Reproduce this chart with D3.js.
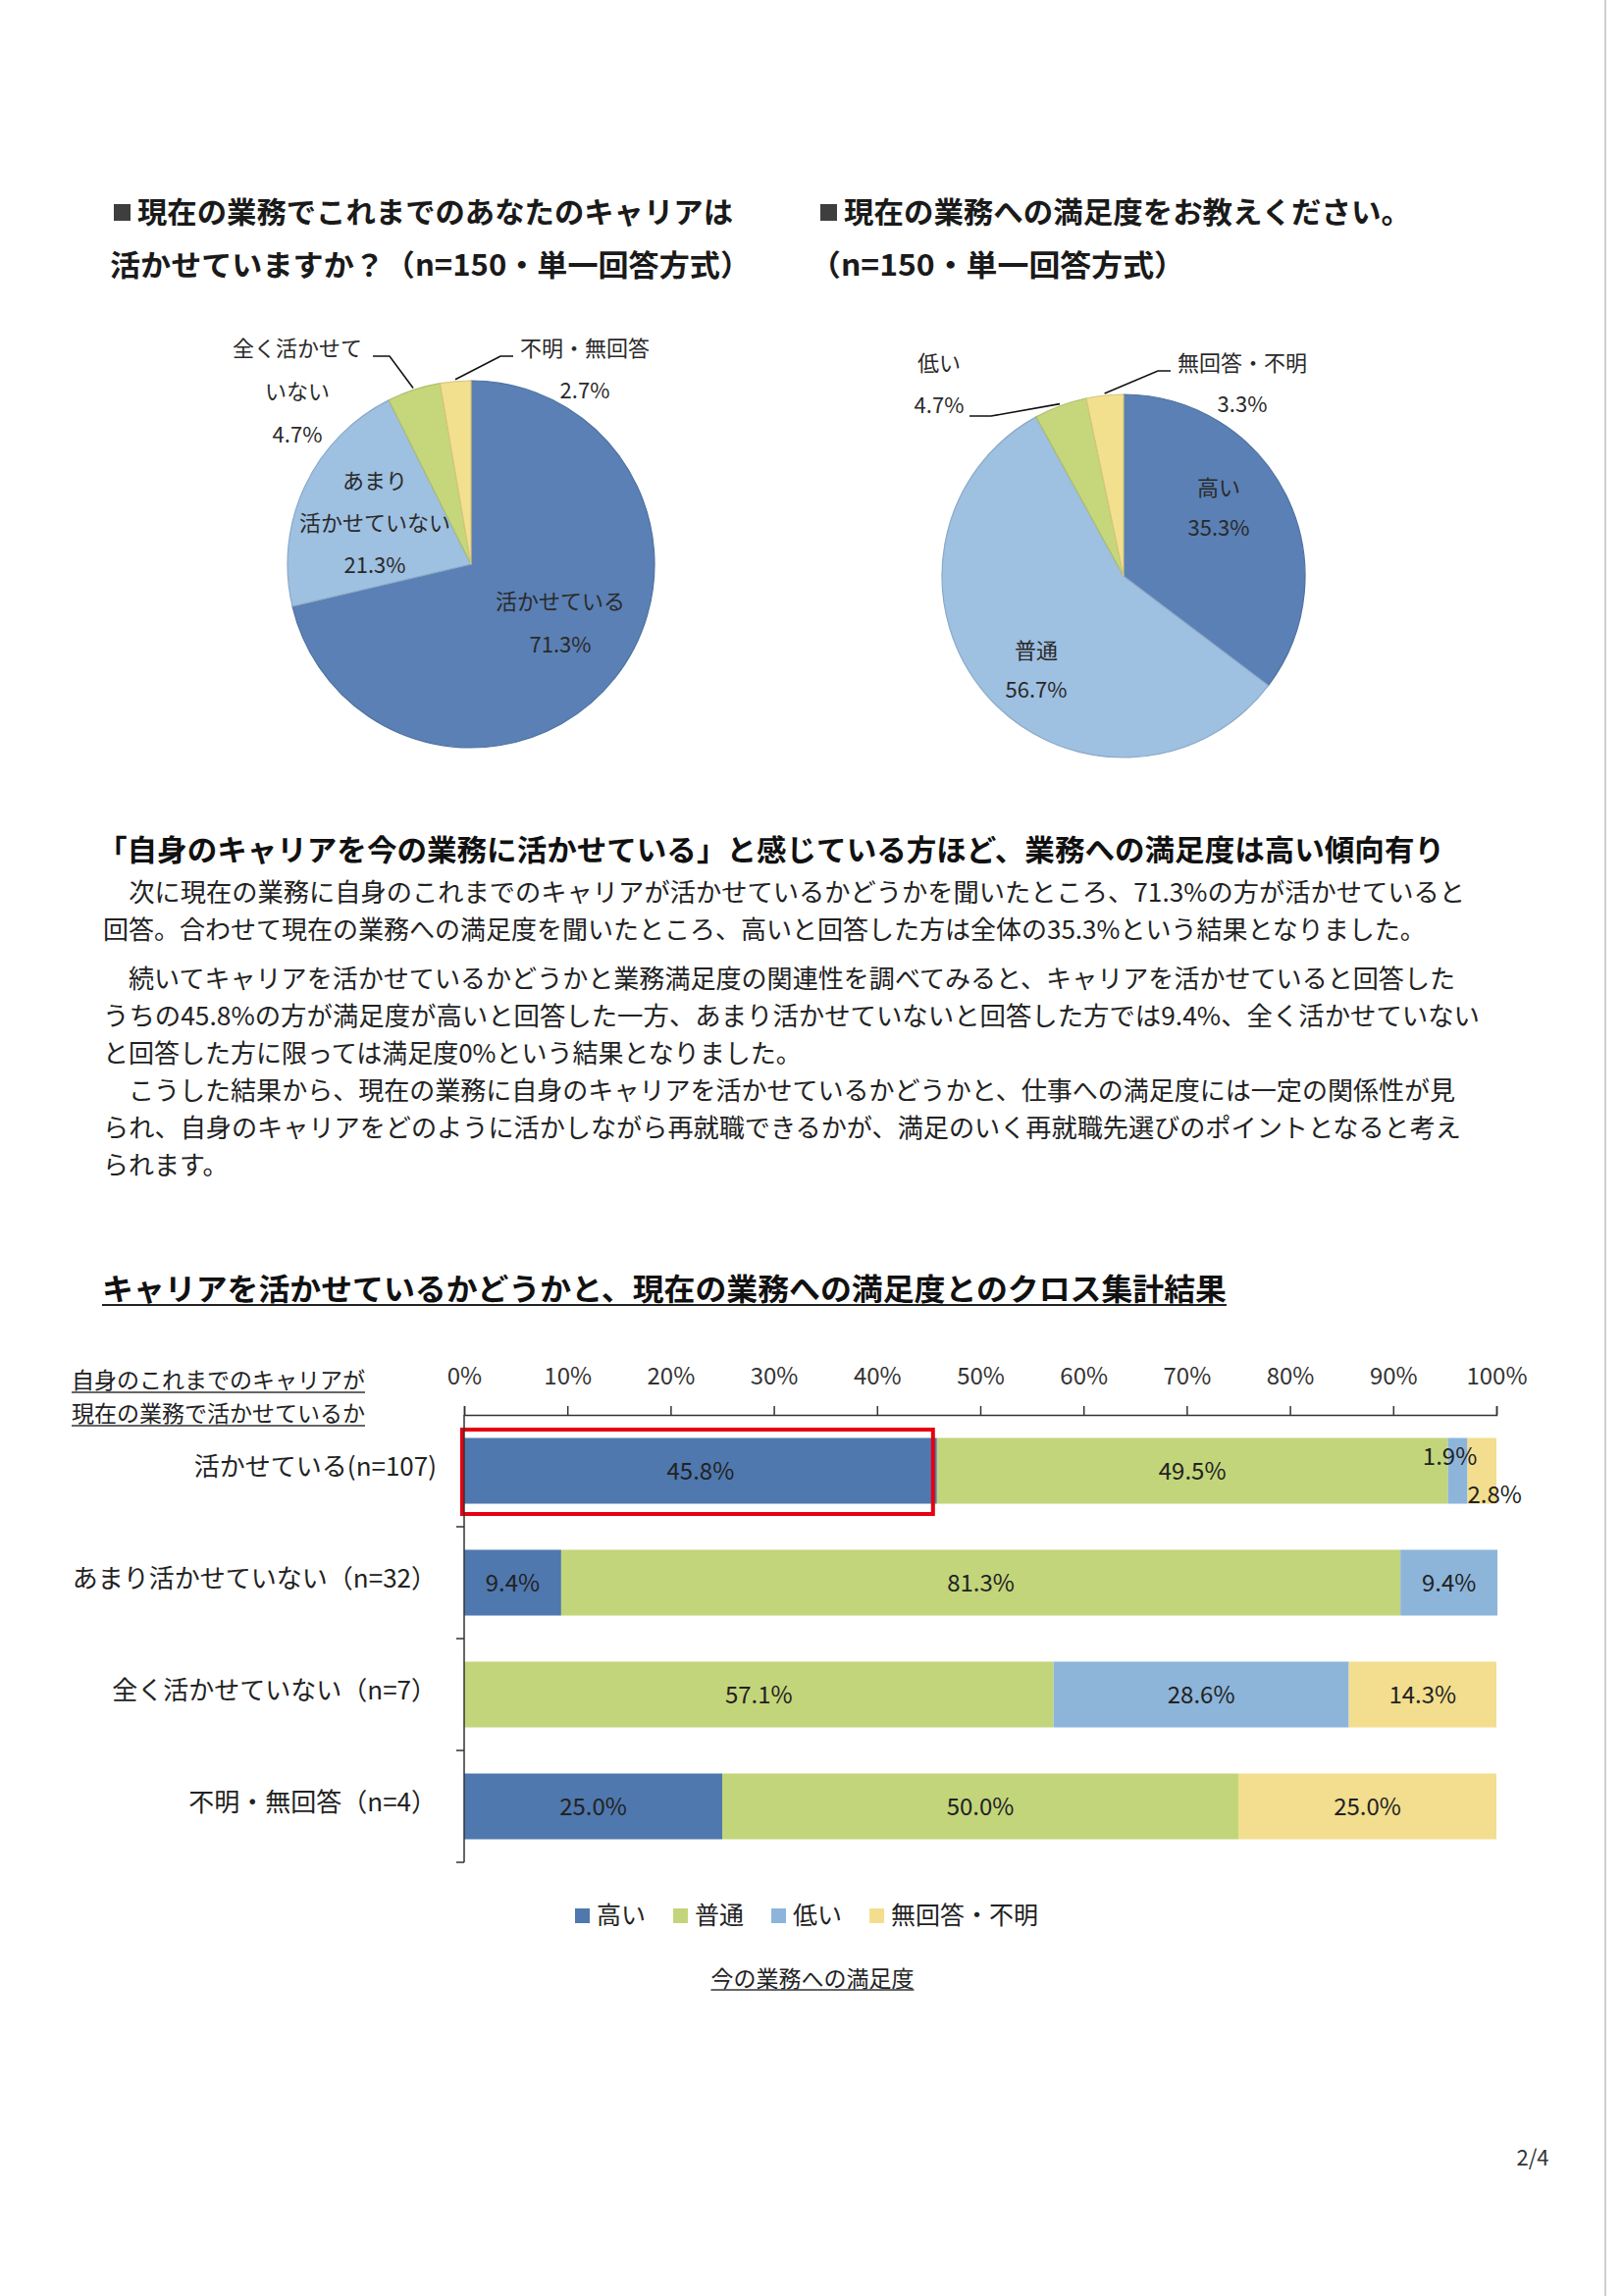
<!DOCTYPE html>
<html><head><meta charset="utf-8">
<script src="https://cdnjs.cloudflare.com/ajax/libs/d3/7.8.5/d3.min.js"></script>
<style>
html,body{margin:0;padding:0;background:#fff;}
svg{display:block;}
text{font-family:"Noto Sans CJK JP","Noto Sans",sans-serif;}
</style></head><body>
<svg id="c" width="1654" height="2340"></svg>
<script>
// ---------------- DATA ----------------
const careerCats = ["活かせている","あまり活かせていない","全く活かせていない","不明・無回答"];
const careerPct = [71.3, 21.3, 4.7, 2.7];
const careerLabelLines = [["活かせている"],["あまり","活かせていない"],["全く活かせて","いない"],["不明・無回答"]];

const satCats = ["高い","普通","低い","無回答・不明"];
const satPct = [35.3, 56.7, 4.7, 3.3];
const satLabelLines = [["高い"],["普通"],["低い"],["無回答・不明"]];

const rowLabels = ["活かせている(n=107)","あまり活かせていない（n=32）","全く活かせていない（n=7）","不明・無回答（n=4）"];
const seriesNames = ["高い","普通","低い","無回答・不明"];
const highVals = [45.8, 9.4, 0, 25.0];
const normalVals = [49.5, 81.3, 57.1, 50.0];
const lowVals = [1.9, 9.4, 28.6, 0];
const naVals = [2.8, 0, 14.3, 25.0];
const tickVals = [0,10,20,30,40,50,60,70,80,90,100];

const titleLeft = ["現在の業務でこれまでのあなたのキャリアは","活かせていますか？（n=150・単一回答方式）"];
const titleRight = ["現在の業務への満足度をお教えください。","（n=150・単一回答方式）"];
const heading = "「自身のキャリアを今の業務に活かせている」と感じている方ほど、業務への満足度は高い傾向有り";
const bodyLines = [
 "　次に現在の業務に自身のこれまでのキャリアが活かせているかどうかを聞いたところ、71.3%の方が活かせていると",
 "回答。合わせて現在の業務への満足度を聞いたところ、高いと回答した方は全体の35.3%という結果となりました。",
 "　続いてキャリアを活かせているかどうかと業務満足度の関連性を調べてみると、キャリアを活かせていると回答した",
 "うちの45.8%の方が満足度が高いと回答した一方、あまり活かせていないと回答した方では9.4%、全く活かせていない",
 "と回答した方に限っては満足度0%という結果となりました。",
 "　こうした結果から、現在の業務に自身のキャリアを活かせているかどうかと、仕事への満足度には一定の関係性が見",
 "られ、自身のキャリアをどのように活かしながら再就職できるかが、満足のいく再就職先選びのポイントとなると考え",
 "られます。"
];
const barTitle = "キャリアを活かせているかどうかと、現在の業務への満足度とのクロス集計結果";
const rowHeader = ["自身のこれまでのキャリアが","現在の業務で活かせているか"];
const xAxisTitle = "今の業務への満足度";
const pageNo = "2/4";

// ---------------- STYLE ----------------
const pieColors = ["#5a80b5","#9ec0e1","#c6d77b","#f2e08f"];
const barColors = ["#4f78ae","#c3d57a","#8db5da","#f2de8e"];
const TY = -3; // vertical text correction

const svg = d3.select("#c");
svg.append("rect").attr("width",1654).attr("height",2340).attr("fill","#fff");
// scanned page edge
svg.append("line").attr("x1",1636).attr("x2",1636).attr("y1",0).attr("y2",2340)
  .attr("stroke","#cfcfcf").attr("stroke-width",2);

// ---------------- TITLES ----------------
function sq(x,y){ svg.append("rect").attr("x",x).attr("y",y).attr("width",17).attr("height",17).attr("fill","#3e3e3e"); }
function txt(s, x, y, o={}){
  const t = svg.append("text").attr("x",x).attr("y",y+TY).attr("dominant-baseline","central")
    .attr("font-size",o.size||26).attr("font-weight",o.weight||400).attr("fill",o.fill||"#1a1a1a")
    .attr("text-anchor",o.anchor||"start").text(s);
  if(o.len){ t.attr("textLength",o.len).attr("lengthAdjust","spacingAndGlyphs"); }
  return t;
}
sq(116,208);
txt(titleLeft[0],140,217,{size:30,weight:700,len:607});
txt(titleLeft[1],112,271,{size:30,weight:700,len:653});
sq(836,208);
txt(titleRight[0],860,217,{size:30,weight:700,len:578});
txt(titleRight[1],825,271,{size:30,weight:700,len:383});

// ---------------- PIES ----------------
function drawPie(cx, cy, R, vals, cats, lines, layout){
  const g = svg.append("g").attr("transform",`translate(${cx},${cy})`);
  const data = vals.map((v,i)=>({v, c:cats[i], i}));
  const arcs = d3.pie().sort(null).value(d=>d.v).startAngle(0).endAngle(2*Math.PI)(data);
  const arc = d3.arc().innerRadius(0).outerRadius(R);
  g.selectAll("path.s").data(arcs).join("path").attr("class","s")
    .attr("d",arc).attr("fill",d=>pieColors[d.data.i])
    .attr("stroke",d=>d3.color(pieColors[d.data.i]).darker(0.35)).attr("stroke-width",1.2);
  const edge = d3.arc().innerRadius(R+2).outerRadius(R+2);
  arcs.forEach((a,i)=>{
    const L = layout[i];
    const ls = lines[i].concat([d3.format(".1f")(a.data.v)+"%"]);
    ls.forEach((s,k)=>{
      g.append("text").attr("x",L.x).attr("y",L.y + k*L.dy - 2).attr("text-anchor","middle")
       .attr("dominant-baseline","central").attr("font-size",22).attr("fill","#2a2a2a").text(s);
    });
    if(L.leader){
      const p = edge.centroid(a);
      g.append("path").attr("d",d3.line()([p, L.leader[0], L.leader[1]]))
       .attr("fill","none").attr("stroke","#111").attr("stroke-width",1.6);
    }
  });
}
drawPie(480,575,187,careerPct,careerCats,careerLabelLines,[
  {x:91,y:38,dy:44},
  {x:-98,y:-85,dy:43},
  {x:-177,y:-220,dy:44,leader:[[-83,-212],[-100,-212]]},
  {x:116,y:-220,dy:43,leader:[[30,-212],[43,-212]]}
]);
drawPie(1145,587,185,satPct,satCats,satLabelLines,[
  {x:97,y:-90,dy:41},
  {x:-89,y:76,dy:40},
  {x:-188,y:-217,dy:43,leader:[[-135,-163],[-157,-163]]},
  {x:121,y:-217,dy:42,leader:[[35,-209],[48,-209]]}
]);

// ---------------- TEXT BLOCK ----------------
txt(heading,99,867,{size:30,weight:700,len:1373,fill:"#111"});
const bodyY = [910,948,998,1036,1074,1112,1150,1188];
const bodyLen = [1388,null,1378,1403,null,1378,1384,null];
bodyLines.forEach((s,i)=>{
  txt(s,105,bodyY[i],{size:26,fill:"#222",len:bodyLen[i]});
});

// ---------------- BAR CHART ----------------
txt(barTitle,104,1314,{size:31,weight:700,len:1146,fill:"#111"});
svg.append("line").attr("x1",104).attr("x2",1250).attr("y1",1330).attr("y2",1330).attr("stroke","#222").attr("stroke-width",2);

rowHeader.forEach((s,i)=>{
  const yy = 1408 + i*34;
  const t = txt(s,73,yy,{size:23,fill:"#222"});
  const w = t.node().getComputedTextLength();
  svg.append("line").attr("x1",73).attr("x2",73+w).attr("y1",yy+11).attr("y2",yy+11).attr("stroke","#333").attr("stroke-width",1.3);
});

const x = d3.scaleLinear().domain([0,100]).range([473,1525]);
const y = d3.scaleBand().domain(rowLabels).range([1442,1898]).paddingInner(0.412).paddingOuter(0.206);

const rows = rowLabels.map((r,i)=>({row:r, "高い":highVals[i], "普通":normalVals[i], "低い":lowVals[i], "無回答・不明":naVals[i]}));
const stacked = d3.stack().keys(seriesNames)(rows);

const gb = svg.append("g");
stacked.forEach((ser,si)=>{
  gb.selectAll(null).data(ser.filter(d=>d[1]-d[0]>0)).join("rect")
    .attr("x",d=>x(d[0])).attr("width",d=>x(d[1])-x(d[0]))
    .attr("y",d=>y(d.data.row)).attr("height",y.bandwidth())
    .attr("fill",barColors[si]);
});
// value labels
stacked.forEach((ser,si)=>{
  ser.forEach(d=>{
    const v = d[1]-d[0];
    if(v<=0) return;
    let cxp = (x(d[0])+x(d[1]))/2, cyp = y(d.data.row)+y.bandwidth()/2 - 2;
    if(v<5){
      if(si===2){ cxp -= 8; cyp -= 15; }
      else { cxp += 13; cyp += 24; }
    }
    gb.append("text").attr("x",cxp).attr("y",cyp).attr("text-anchor","middle")
      .attr("dominant-baseline","central").attr("font-size",24).attr("fill","#222")
      .text(d3.format(".1f")(d.data[ser.key])+"%");
  });
});

// highlight box
const r0 = rowLabels[0];
svg.append("rect").attr("x",x(0)-2).attr("y",y(r0)-8.5)
  .attr("width",x(highVals[0])-x(0)-2).attr("height",y.bandwidth()+19)
  .attr("fill","none").attr("stroke","#e50012").attr("stroke-width",4);

// top axis
const ax = svg.append("g").attr("transform","translate(0,1442)")
  .call(d3.axisTop(x).tickValues(tickVals).tickFormat(d=>d+"%").tickSize(9).tickPadding(22));
ax.select(".domain").attr("stroke","#333").attr("stroke-width",1.5);
ax.selectAll(".tick line").attr("stroke","#333").attr("stroke-width",1.5);
ax.selectAll(".tick text").attr("font-size",24).attr("fill","#333")
  .attr("font-family",'"Noto Sans CJK JP","Noto Sans",sans-serif');

// left axis with boundary ticks
svg.append("line").attr("x1",x(0)).attr("x2",x(0)).attr("y1",y.range()[0]).attr("y2",y.range()[1])
  .attr("stroke","#333").attr("stroke-width",1.5);
rowLabels.forEach(r=>{
  const yy = y(r)+y.bandwidth()+(y.step()-y.bandwidth())/2;
  svg.append("line").attr("x1",x(0)-8).attr("x2",x(0)).attr("y1",yy).attr("y2",yy)
    .attr("stroke","#333").attr("stroke-width",1.5);
});
// category labels
rowLabels.forEach(r=>{
  txt(r,445,y(r)+y.bandwidth()/2-4,{size:26,anchor:"end",fill:"#222"});
});

// legend
let lx = 586;
seriesNames.forEach((s,i)=>{
  svg.append("rect").attr("x",lx).attr("y",1945).attr("width",15).attr("height",15).attr("fill",barColors[i]);
  const t = txt(s,lx+22,1953,{size:25,fill:"#222"});
  lx += 22 + t.node().getComputedTextLength() + 28;
});
// axis title
const at = txt(xAxisTitle,828,2018,{size:23,anchor:"middle",fill:"#222"});
const aw = at.node().getComputedTextLength();
svg.append("line").attr("x1",828-aw/2).attr("x2",828+aw/2).attr("y1",2028).attr("y2",2028).attr("stroke","#333").attr("stroke-width",1.3);

// page number
txt(pageNo,1562,2200,{size:22,anchor:"middle",fill:"#333"});
</script>
</body></html>
